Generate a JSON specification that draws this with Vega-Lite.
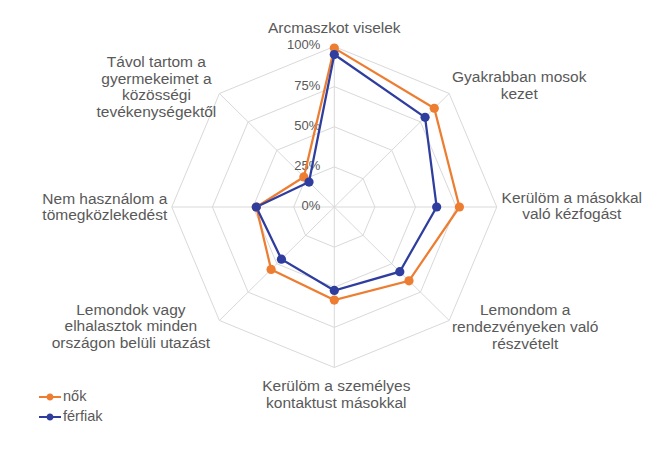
{
  "$schema": "https://vega.github.io/schema/vega-lite/v6.json",
  "width": 669,
  "height": 457,
  "autosize": {"type": "none"},
  "padding": 0,
  "config": {
    "view": {"stroke": null},
    "font": "Liberation Sans",
    "text": {"font": "Liberation Sans", "color": "#595959"},
    "legend": {"labelFontSize": 14.5, "labelColor": "#595959", "labelFont": "Liberation Sans"}
  },
  "datasets": {
    "categories": [
      {"idx": 0, "label": ["Arcmaszkot viselek"]},
      {"idx": 1, "label": ["Gyakrabban mosok", "kezet"]},
      {"idx": 2, "label": ["Kerülöm a másokkal", "való kézfogást"]},
      {"idx": 3, "label": ["Lemondom a", "rendezvényeken való", "részvételt"]},
      {"idx": 4, "label": ["Kerülöm a személyes", "kontaktust másokkal"]},
      {"idx": 5, "label": ["Lemondok vagy", "elhalasztok minden", "országon belüli utazást"]},
      {"idx": 6, "label": ["Nem használom a", "tömegközlekedést"]},
      {"idx": 7, "label": ["Távol tartom a", "gyermekeimet a", "közösségi", "tevékenységektől"]}
    ],
    "rings": [
      {"ring": 0.25, "idx": [0, 1, 2, 3, 4, 5, 6, 7]},
      {"ring": 0.5, "idx": [0, 1, 2, 3, 4, 5, 6, 7]},
      {"ring": 0.75, "idx": [0, 1, 2, 3, 4, 5, 6, 7]},
      {"ring": 1, "idx": [0, 1, 2, 3, 4, 5, 6, 7]}
    ],
    "ticks": [
      {"level": 0, "tick": "0%"},
      {"level": 0.25, "tick": "25%"},
      {"level": 0.5, "tick": "50%"},
      {"level": 0.75, "tick": "75%"},
      {"level": 1, "tick": "100%"}
    ],
    "answers": [
      {"idx": 0, "group": "nők", "value": 0.99},
      {"idx": 1, "group": "nők", "value": 0.87},
      {"idx": 2, "group": "nők", "value": 0.77},
      {"idx": 3, "group": "nők", "value": 0.65},
      {"idx": 4, "group": "nők", "value": 0.58},
      {"idx": 5, "group": "nők", "value": 0.55},
      {"idx": 6, "group": "nők", "value": 0.48},
      {"idx": 7, "group": "nők", "value": 0.265},
      {"idx": 0, "group": "férfiak", "value": 0.95},
      {"idx": 1, "group": "férfiak", "value": 0.79},
      {"idx": 2, "group": "férfiak", "value": 0.63},
      {"idx": 3, "group": "férfiak", "value": 0.57},
      {"idx": 4, "group": "férfiak", "value": 0.52},
      {"idx": 5, "group": "férfiak", "value": 0.46},
      {"idx": 6, "group": "férfiak", "value": 0.48},
      {"idx": 7, "group": "férfiak", "value": 0.22}
    ]
  },
  "encoding": {
    "x": {"field": "px", "type": "quantitative", "scale": {"domain": [-2.0572, 2.0597], "nice": false, "zero": false}, "axis": null},
    "y": {"field": "py", "type": "quantitative", "scale": {"domain": [-1.5576, 1.2897], "nice": false, "zero": false}, "axis": null}
  },
  "layer": [
    {
      "data": {"name": "rings"},
      "transform": [
        {"flatten": ["idx"]},
        {"calculate": "datum.ring * sin(datum.idx * PI / 4)", "as": "px"},
        {"calculate": "datum.ring * cos(datum.idx * PI / 4)", "as": "py"}
      ],
      "mark": {"type": "line", "interpolate": "linear-closed", "color": "#D9D9D9", "strokeWidth": 1},
      "encoding": {
        "detail": {"field": "ring", "type": "nominal"},
        "order": {"field": "idx", "type": "quantitative"}
      }
    },
    {
      "data": {"name": "categories"},
      "transform": [
        {"calculate": "sin(datum.idx * PI / 4)", "as": "px"},
        {"calculate": "cos(datum.idx * PI / 4)", "as": "py"}
      ],
      "mark": {"type": "rule", "color": "#D9D9D9", "strokeWidth": 1},
      "encoding": {
        "x": {"datum": 0, "type": "quantitative"},
        "y": {"datum": 0, "type": "quantitative"},
        "x2": {"field": "px"},
        "y2": {"field": "py"}
      }
    },
    {
      "data": {"name": "ticks"},
      "transform": [
        {"calculate": "0 * datum.level", "as": "px"},
        {"calculate": "datum.level", "as": "py"}
      ],
      "mark": {"type": "text", "align": "right", "baseline": "middle", "dx": -14, "dy": -1, "fontSize": 13},
      "encoding": {
        "text": {"field": "tick", "type": "nominal"}
      }
    },
    {
      "data": {"name": "answers"},
      "transform": [
        {"calculate": "datum.value * sin(datum.idx * PI / 4)", "as": "px"},
        {"calculate": "datum.value * cos(datum.idx * PI / 4)", "as": "py"}
      ],
      "mark": {"type": "line", "interpolate": "linear-closed", "strokeWidth": 2.25},
      "encoding": {
        "color": {
          "field": "group",
          "type": "nominal",
          "scale": {"domain": ["nők", "férfiak"], "range": ["#ED7D31", "#2F3E9E"]},
          "legend": {
            "orient": "none",
            "legendX": 39,
            "legendY": 386,
            "title": null,
            "padding": 0,
            "rowPadding": 2,
            "symbolType": "M-1,-0.09H-0.3V0.09H-1Z M0.3,-0.09H1V0.09H0.3Z M0.32,0A0.32,0.32 0 1,1 -0.32,0A0.32,0.32 0 1,1 0.32,0Z",
            "symbolSize": 484,
            "symbolStrokeWidth": 0,
            "symbolOpacity": 1,
            "labelFontSize": 14.5,
            "labelColor": "#595959",
            "labelOffset": 2
          }
        },
        "order": {"field": "idx", "type": "quantitative"}
      }
    },
    {
      "data": {"name": "answers"},
      "transform": [
        {"calculate": "datum.value * sin(datum.idx * PI / 4)", "as": "px"},
        {"calculate": "datum.value * cos(datum.idx * PI / 4)", "as": "py"}
      ],
      "mark": {"type": "point", "filled": true, "opacity": 1, "size": 85},
      "encoding": {
        "color": {
          "field": "group",
          "type": "nominal",
          "scale": {"domain": ["nők", "férfiak"], "range": ["#ED7D31", "#2F3E9E"]},
          "legend": {
            "orient": "none",
            "legendX": 39,
            "legendY": 386,
            "title": null,
            "padding": 0,
            "rowPadding": 2,
            "symbolType": "M-1,-0.09H-0.3V0.09H-1Z M0.3,-0.09H1V0.09H0.3Z M0.32,0A0.32,0.32 0 1,1 -0.32,0A0.32,0.32 0 1,1 0.32,0Z",
            "symbolSize": 484,
            "symbolStrokeWidth": 0,
            "symbolOpacity": 1,
            "labelFontSize": 14.5,
            "labelColor": "#595959",
            "labelOffset": 2
          }
        }
      }
    },
    {
      "data": {"name": "categories"},
      "transform": [
        {"filter": "datum.idx == 0"},
        {"calculate": "sin(datum.idx * PI / 4)", "as": "px"},
        {"calculate": "cos(datum.idx * PI / 4)", "as": "py"}
      ],
      "mark": {"type": "text", "align": "center", "baseline": "middle", "fontSize": 15.5, "lineHeight": 16.8, "dx": 0, "dy": -18.5},
      "encoding": {"text": {"field": "label"}}
    },
    {
      "data": {"name": "categories"},
      "transform": [
        {"filter": "datum.idx == 1"},
        {"calculate": "sin(datum.idx * PI / 4)", "as": "px"},
        {"calculate": "cos(datum.idx * PI / 4)", "as": "py"}
      ],
      "mark": {"type": "text", "align": "center", "baseline": "middle", "fontSize": 15.5, "lineHeight": 16.8, "dx": 70, "dy": -16.4},
      "encoding": {"text": {"field": "label"}}
    },
    {
      "data": {"name": "categories"},
      "transform": [
        {"filter": "datum.idx == 2"},
        {"calculate": "sin(datum.idx * PI / 4)", "as": "px"},
        {"calculate": "cos(datum.idx * PI / 4)", "as": "py"}
      ],
      "mark": {"type": "text", "align": "center", "baseline": "middle", "fontSize": 15.5, "lineHeight": 16.8, "dx": 75, "dy": -9.4},
      "encoding": {"text": {"field": "label"}}
    },
    {
      "data": {"name": "categories"},
      "transform": [
        {"filter": "datum.idx == 3"},
        {"calculate": "sin(datum.idx * PI / 4)", "as": "px"},
        {"calculate": "cos(datum.idx * PI / 4)", "as": "py"}
      ],
      "mark": {"type": "text", "align": "center", "baseline": "middle", "fontSize": 15.5, "lineHeight": 16.8, "dx": 76, "dy": -10.3},
      "encoding": {"text": {"field": "label"}}
    },
    {
      "data": {"name": "categories"},
      "transform": [
        {"filter": "datum.idx == 4"},
        {"calculate": "sin(datum.idx * PI / 4)", "as": "px"},
        {"calculate": "cos(datum.idx * PI / 4)", "as": "py"}
      ],
      "mark": {"type": "text", "align": "center", "baseline": "middle", "fontSize": 15.5, "lineHeight": 16.8, "dx": 2, "dy": 18.6},
      "encoding": {"text": {"field": "label"}}
    },
    {
      "data": {"name": "categories"},
      "transform": [
        {"filter": "datum.idx == 5"},
        {"calculate": "sin(datum.idx * PI / 4)", "as": "px"},
        {"calculate": "cos(datum.idx * PI / 4)", "as": "py"}
      ],
      "mark": {"type": "text", "align": "center", "baseline": "middle", "fontSize": 15.5, "lineHeight": 16.8, "dx": -88.5, "dy": -10.8},
      "encoding": {"text": {"field": "label"}}
    },
    {
      "data": {"name": "categories"},
      "transform": [
        {"filter": "datum.idx == 6"},
        {"calculate": "sin(datum.idx * PI / 4)", "as": "px"},
        {"calculate": "cos(datum.idx * PI / 4)", "as": "py"}
      ],
      "mark": {"type": "text", "align": "center", "baseline": "middle", "fontSize": 15.5, "lineHeight": 16.8, "dx": -67, "dy": -8.4},
      "encoding": {"text": {"field": "label"}}
    },
    {
      "data": {"name": "categories"},
      "transform": [
        {"filter": "datum.idx == 7"},
        {"calculate": "sin(datum.idx * PI / 4)", "as": "px"},
        {"calculate": "cos(datum.idx * PI / 4)", "as": "py"}
      ],
      "mark": {"type": "text", "align": "center", "baseline": "middle", "fontSize": 15.5, "lineHeight": 16.6, "dx": -63, "dy": -31.4},
      "encoding": {"text": {"field": "label"}}
    }
  ]
}
